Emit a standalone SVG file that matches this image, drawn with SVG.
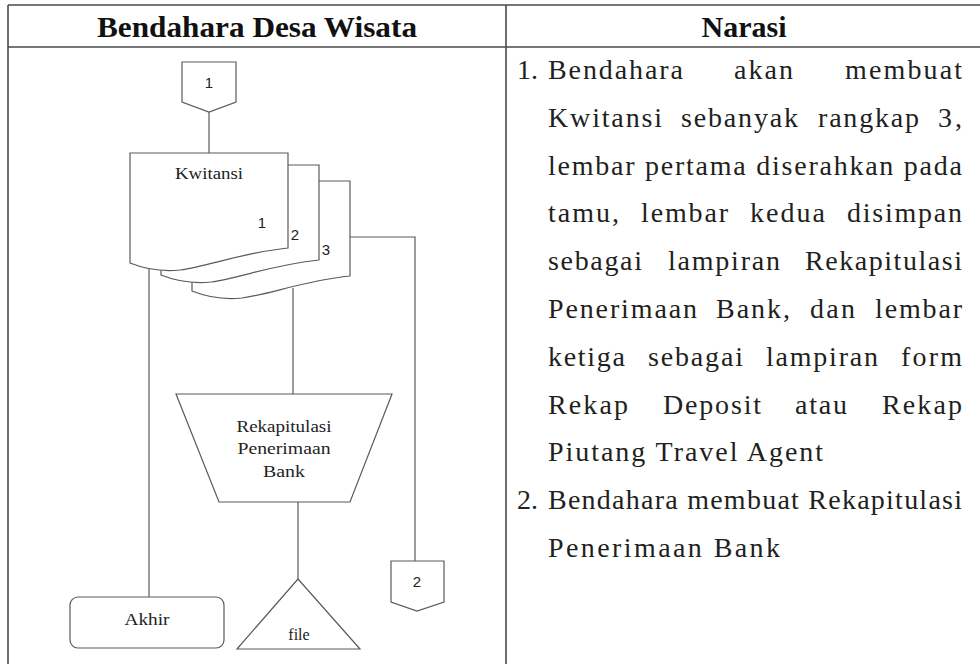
<svg xmlns="http://www.w3.org/2000/svg" width="980" height="664" viewBox="0 0 980 664">
<style>
.tbl{stroke:#4a4a4a;stroke-width:1.6;fill:none}
.shp{stroke:#5a5a5a;stroke-width:1.2;fill:#fff}
.ln{stroke:#5a5a5a;stroke-width:1.2;fill:none}
.hd{font-family:"Liberation Serif","Times New Roman",serif;font-weight:bold;font-size:30px;fill:#111;text-anchor:middle}
.nr{font-family:"Liberation Serif","Times New Roman",serif;font-size:28px;fill:#231f20}
.lb{font-family:"Liberation Serif","Times New Roman",serif;font-size:16px;fill:#222;text-anchor:middle}
.dg{font-family:"Liberation Sans",Arial,sans-serif;font-size:15px;fill:#222;text-anchor:middle}
</style>
<defs>
<path id="doc" d="M0,110 C15,116 30,119 50,117 C80,113 110,100 158,95 V0 H0 Z"/>
</defs>
<rect width="980" height="664" fill="#fff"/>
<g id="table">
<line class="tbl" x1="8" y1="5" x2="980" y2="5"/>
<line class="tbl" x1="8" y1="47" x2="980" y2="47"/>
<line class="tbl" x1="8" y1="5" x2="8" y2="664"/>
<line class="tbl" x1="506" y1="5" x2="506" y2="664"/>
<text class="hd" x="257" y="37" textLength="320" lengthAdjust="spacingAndGlyphs">Bendahara Desa Wisata</text>
<text class="hd" x="744" y="37">Narasi</text>
</g>
<g id="connectors">
<line class="ln" x1="209" y1="112" x2="209" y2="153"/>
<polyline class="ln" points="349,237 415,237 415,561"/>
<line class="ln" x1="149" y1="269" x2="149" y2="597"/>
<line class="ln" x1="293" y1="288" x2="293" y2="394"/>
<line class="ln" x1="298" y1="502" x2="298" y2="579"/>
</g>
<g id="offpage1">
<polygon class="shp" points="182,62 236,62 236,102 209,112 182,102"/>
<text class="dg" x="209" y="88">1</text>
</g>
<g id="kwitansi">
<use href="#doc" class="shp" transform="translate(192,181)"/>
<use href="#doc" class="shp" transform="translate(161,165)"/>
<use href="#doc" class="shp" transform="translate(130,153)"/>
<text class="lb" x="209" y="179" textLength="68" lengthAdjust="spacingAndGlyphs">Kwitansi</text>
<text class="dg" x="262" y="228">1</text>
<text class="dg" x="295" y="240">2</text>
<text class="dg" x="326" y="255">3</text>
</g>
<g id="rekapitulasi">
<polygon class="shp" points="176,394 392,394 350,502 219,502"/>
<text class="lb" x="284" y="432" textLength="95" lengthAdjust="spacingAndGlyphs">Rekapitulasi</text>
<text class="lb" x="284" y="454" textLength="93" lengthAdjust="spacingAndGlyphs">Penerimaan</text>
<text class="lb" x="284" y="477" textLength="42" lengthAdjust="spacingAndGlyphs">Bank</text>
</g>
<g id="offpage2">
<polygon class="shp" points="391,561 444,561 444,602 417,611 391,602"/>
<text class="dg" x="417" y="587">2</text>
</g>
<g id="akhir">
<rect class="shp" x="70" y="597" width="154" height="51" rx="8"/>
<text class="lb" x="147" y="625" textLength="45" lengthAdjust="spacingAndGlyphs">Akhir</text>
</g>
<g id="file">
<polygon class="shp" points="298,579 360,649 237,649"/>
<text class="lb" x="299" y="640">file</text>
</g>
<g id="narasi" class="nr">
<text x="517" y="79">1.</text>
<text x="548" y="79" textLength="135">Bendahara</text>
<text x="734" y="79" textLength="59">akan</text>
<text x="845" y="79" textLength="117">membuat</text>
<text x="548" y="127" textLength="114">Kwitansi</text>
<text x="681" y="127" textLength="117">sebanyak</text>
<text x="818" y="127" textLength="101">rangkap</text>
<text x="938" y="127" textLength="24">3,</text>
<text x="548" y="175" textLength="414">lembar pertama diserahkan pada</text>
<text x="548" y="222" textLength="71">tamu,</text>
<text x="641" y="222" textLength="87">lembar</text>
<text x="750" y="222" textLength="75">kedua</text>
<text x="847" y="222" textLength="115">disimpan</text>
<text x="548" y="270" textLength="94">sebagai</text>
<text x="668" y="270" textLength="112">lampiran</text>
<text x="805" y="270" textLength="157">Rekapitulasi</text>
<text x="548" y="318" textLength="149">Penerimaan</text>
<text x="716" y="318" textLength="74">Bank,</text>
<text x="810" y="318" textLength="45">dan</text>
<text x="875" y="318" textLength="87">lembar</text>
<text x="548" y="366" textLength="77">ketiga</text>
<text x="648" y="366" textLength="95">sebagai</text>
<text x="766" y="366" textLength="112">lampiran</text>
<text x="901" y="366" textLength="61">form</text>
<text x="548" y="414" textLength="80">Rekap</text>
<text x="663" y="414" textLength="98">Deposit</text>
<text x="795" y="414" textLength="52">atau</text>
<text x="882" y="414" textLength="80">Rekap</text>
<text x="548" y="461" textLength="275">Piutang Travel Agent</text>
<text x="517" y="509">2.</text>
<text x="548" y="509" textLength="414">Bendahara membuat Rekapitulasi</text>
<text x="548" y="557" textLength="232">Penerimaan Bank</text>
</g>
</svg>
